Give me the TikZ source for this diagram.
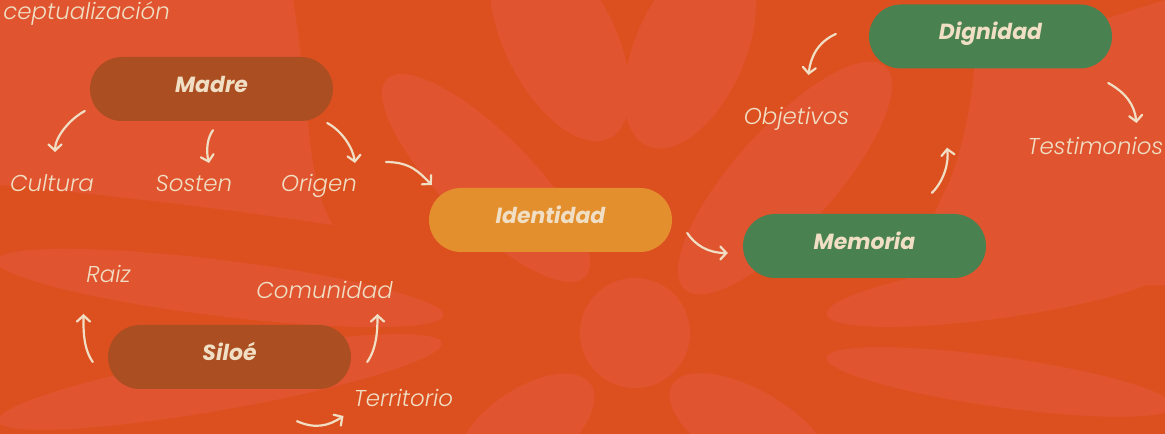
\documentclass[tikz,border=0pt]{standalone}
\usepackage{fontspec}
\setmainfont{Poppins}
\newfontfamily\lightfont{Poppins}[UprightFont={* Light}, ItalicFont={* Light Italic}]
\usetikzlibrary{arrows.meta}
\definecolor{bgdark}{HTML}{DC5020}
\definecolor{bglight}{HTML}{E05530}
\definecolor{brownbox}{HTML}{AB4E22}
\definecolor{orangebox}{HTML}{E38F2E}
\definecolor{greenbox}{HTML}{4A8150}
\definecolor{cream}{HTML}{F0DFC4}
\tikzset{
  pill/.style={rectangle, rounded corners=32bp, minimum width=243bp, minimum height=64bp,
    inner sep=0pt, text=cream, text height=12bp, text depth=5bp,
    font=\fontsize{22}{26}\selectfont\bfseries\itshape},
  lbl/.style={inner sep=0pt, text=cream, anchor=base, font=\lightfont\fontsize{23}{27}\selectfont\itshape},
  arr/.style={draw=cream, line width=2.2bp, line cap=round,
    -{Straight Barb[length=6bp,width=13bp,line cap=round]}},
  petal/.style={fill=bglight}
}
\begin{document}
\begin{tikzpicture}[x=1bp,y=-1bp]
\fill[bgdark] (0,0) rectangle (1165,434);
\useasboundingbox (0,0) rectangle (1165,434);
% background flower (faint)
\begin{scope}
\clip (0,0) rectangle (1165,434);
\fill[petal] (0,0) -- (293,0) .. controls (310,100) and (305,180) .. (333,225)
  .. controls (200,205) and (60,190) .. (0,185) -- cycle;
\fill[petal] (975,60) -- (1165,0) -- (1165,285) -- (900,292) .. controls (925,240) and (935,210) .. (950,180)
  .. controls (965,140) and (972,100) .. cycle;
\fill[petal] (486,178) ellipse[x radius=140, y radius=45, rotate=135];
\fill[petal] (560,40) ellipse[x radius=110, y radius=55, rotate=117];
\fill[petal] (690,50) ellipse[x radius=105, y radius=55, rotate=66];
\fill[petal] (785,178) ellipse[x radius=150, y radius=50, rotate=48];
\fill[petal] (1000,290) ellipse[x radius=175, y radius=28, rotate=8];
\fill[petal] (1000,382) ellipse[x radius=175, y radius=25, rotate=-8];
\fill[petal] (750,430) ellipse[x radius=90, y radius=40, rotate=-30];
\fill[petal] (525,430) ellipse[x radius=80, y radius=40, rotate=-145];
\fill[petal] (220,288) ellipse[x radius=225, y radius=28, rotate=173];
\fill[petal] (220,382) ellipse[x radius=225, y radius=28, rotate=-170];
\fill[petal] (635,333) circle[radius=55];
\end{scope}

% main nodes
\node[pill, fill=brownbox]  (madre)   at (211.5,89)  {Madre};
\node[pill, fill=orangebox] (ident)   at (550.5,220) {Identidad};
\node[pill, fill=greenbox]  (memoria) at (864.5,246) {Memoria};
\node[pill, fill=greenbox]  (dign)    at (990.5,36.5) {Dignidad};
\node[pill, fill=brownbox]  (siloe)   at (229.5,357) {Siloé};

% labels
\node[lbl, anchor=base east] (concept) at (170,20) {ceptualización};
\node[lbl] (cultura)    at (52,192)    {Cultura};
\node[lbl] (sosten)     at (194,192)   {Sosten};
\node[lbl] (origen)     at (319,192)   {Origen};
\node[lbl] (raiz)       at (108.5,283) {Raiz};
\node[lbl] (comunidad)  at (324.5,299) {Comunidad};
\node[lbl] (territorio) at (403.5,407) {Territorio};
\node[lbl] (objetivos)  at (796.5,125) {Objetivos};
\node[lbl] (testimonios) at (1095.5,155) {Testimonios};

% connectors
\draw[arr] ([shift={(-5,22)}]madre.west) .. controls +(-15,8) and +(0,-15) .. ([shift={(3,-40)}]cultura.base);
\draw[arr] ([shift={(1.5,9)}]madre.south) .. controls +(-6,8) and +(-3,-12) .. ([shift={(15,-29)}]sosten.base);
\draw[arr] ([shift={(-6,34)}]madre.east) .. controls +(15,8) and +(-2,-15) .. ([shift={(36,-29)}]origen.base);
\draw[arr] ([shift={(67,-30)}]origen.base) .. controls +(25,0) and +(-12,-12) .. ([shift={(3,-35)}]ident.west);
\draw[arr] ([shift={(15,13)}]ident.east) .. controls +(8,12) and +(-20,0) .. ([shift={(-15,7)}]memoria.west);
\draw[arr] ([shift={(67.5,-21)}]memoria.north) .. controls +(12,-12) and +(2,15) .. ([shift={(-43.5,79)}]dign.south);
\draw[arr] ([shift={(-33,-2.5)}]dign.west) .. controls +(-18,8) and +(2,-18) .. ([shift={(12,-50)}]objetivos.base);
\draw[arr] ([shift={(-4,46.5)}]dign.east) .. controls +(18,10) and +(-2,-18) .. ([shift={(41,-32)}]testimonios.base);
\draw[arr] ([shift={(-15,5)}]siloe.west) .. controls +(-10,-14) and +(0,14) .. ([shift={(-25,31)}]raiz.base);
\draw[arr] ([shift={(16,5)}]siloe.east) .. controls +(10,-14) and +(0,14) .. ([shift={(53,15)}]comunidad.base);
\draw[arr] ([shift={(67.5,32)}]siloe.south) .. controls +(18,8) and +(-15,10) .. ([shift={(-60,9)}]territorio.base);
\end{tikzpicture}
\end{document}
